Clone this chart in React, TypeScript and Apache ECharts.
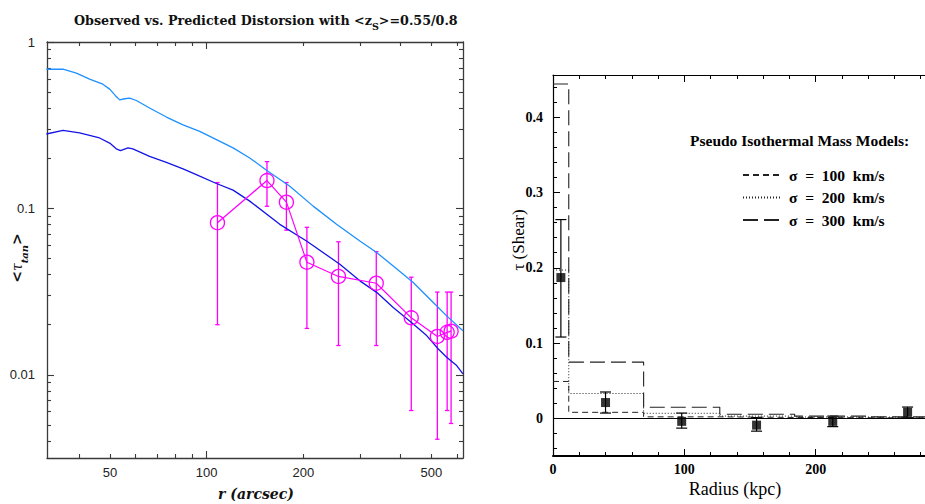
import React, { useEffect, useRef } from 'react';
import * as echarts from 'echarts';

// ---------- Left panel data (r in arcsec, tau) ----------
const obsR = [108, 154, 177, 205, 257, 337, 433, 522, 560, 576];
const obsTau = [0.082, 0.147, 0.109, 0.0475, 0.039, 0.0355, 0.022, 0.017, 0.018, 0.0183];
const obsHi = [0.143, 0.191, 0.143, 0.077, 0.063, 0.055, 0.0386, 0.0314, 0.0314, 0.0314];
const obsLo = [0.020, 0.103, 0.074, 0.019, 0.015, 0.015, 0.0061, 0.0041, 0.0061, 0.0051];

const lightR = [31.7, 35.7, 39.3, 43.2, 47.5, 49.9, 52.3, 53.6, 55.5, 57.6, 60.4, 66.4, 74.9, 84.4, 95.1, 107.2, 120.8, 136.1, 153.5, 181.4, 214.4, 253.5, 299.6, 337.9, 380.5, 439.2, 507, 558, 627];
const lightTau = [0.686, 0.686, 0.650, 0.598, 0.558, 0.521, 0.470, 0.449, 0.456, 0.460, 0.445, 0.401, 0.354, 0.318, 0.290, 0.259, 0.231, 0.201, 0.1696, 0.136, 0.1032, 0.0802, 0.0637, 0.0543, 0.0451, 0.0359, 0.0272, 0.0226, 0.0184];

const darkR = [31.7, 35.7, 40.2, 46.4, 49.9, 52.3, 53.9, 56.9, 58.9, 66.4, 74.9, 84.4, 95.1, 107.2, 120.8, 136.1, 168.8, 204.4, 259.6, 299.6, 337.9, 380.5, 439.2, 483.5, 525.6, 558, 599.6, 627];
const darkTau = [0.280, 0.294, 0.284, 0.265, 0.247, 0.228, 0.2225, 0.231, 0.228, 0.2056, 0.1893, 0.1729, 0.1561, 0.1411, 0.1287, 0.1106, 0.0802, 0.0637, 0.0462, 0.0367, 0.0313, 0.0254, 0.0202, 0.0172, 0.0143, 0.01276, 0.01137, 0.01014];

const leftXLabels = [50, 100, 200, 500];
const leftXMajor = [100];
const leftXMinor = [40, 50, 60, 70, 80, 90, 200, 300, 400, 500, 600];
const leftYLabels = [0.01, 0.1, 1];
const leftYMinor = [0.004, 0.005, 0.006, 0.007, 0.008, 0.009, 0.02, 0.03, 0.04, 0.05, 0.06, 0.07, 0.08, 0.09, 0.2, 0.3, 0.4, 0.5, 0.6, 0.7, 0.8, 0.9];

// ---------- Right panel data (radius in kpc, shear) ----------
const binEdges = [0, 12, 69, 127, 184, 242, 300];
const model100 = [0.049, 0.008, 0.002, 0.0012, 0.0008, 0.0006];
const model200 = [0.197, 0.033, 0.0067, 0.003, 0.0018, 0.0012];
const model300 = [0.444, 0.0747, 0.0147, 0.0055, 0.003, 0.002];

const radiusKpc = [6, 40, 98, 155, 213, 270];
const shear = [0.187, 0.021, -0.004, -0.009, -0.004, 0.008];
const shearHi = [0.264, 0.035, 0.007, 0.001, 0.003, 0.015];
const shearLo = [0.108, 0.007, -0.013, -0.017, -0.011, 0.001];

const rightXLabels = [0, 100, 200];
const rightYLabels = [0, 0.1, 0.2, 0.3, 0.4];
const rightYMinor = [-0.04, -0.02, 0.02, 0.04, 0.06, 0.08, 0.12, 0.14, 0.16, 0.18, 0.22, 0.24, 0.26, 0.28, 0.32, 0.34, 0.36, 0.38, 0.42, 0.44];

const modelNames = ['σ  =  100  km/s', 'σ  =  200  km/s', 'σ  =  300  km/s'];

const L = (v: number) => Math.log10(v);
const SANS = 'Liberation Sans, Arial, sans-serif';
const SERIF = 'Liberation Serif, Times New Roman, serif';
const LEFT_AX = '#3a3a3a';
const MAGENTA = '#ff00ff';

function stepData(vals: number[]) {
  const d: number[][] = vals.map((v, i) => [binEdges[i], v]);
  d.push([binEdges[binEdges.length - 1], vals[vals.length - 1]]);
  return d;
}

function errRender(capHalf: number, color: string, width: number) {
  return (params: any, api: any) => {
    const x = api.value(0);
    const pHi = api.coord([x, api.value(2)]);
    const pLo = api.coord([x, api.value(1)]);
    const style = { stroke: color, lineWidth: width };
    return {
      type: 'group',
      children: [
        { type: 'line', shape: { x1: pHi[0], y1: pHi[1], x2: pLo[0], y2: pLo[1] }, style },
        { type: 'line', shape: { x1: pHi[0] - capHalf, y1: pHi[1], x2: pHi[0] + capHalf, y2: pHi[1] }, style },
        { type: 'line', shape: { x1: pLo[0] - capHalf, y1: pLo[1], x2: pLo[0] + capHalf, y2: pLo[1] }, style },
      ],
    };
  };
}

function logAxis(gridIndex: number, position: string, min: number, max: number, opts: any) {
  return {
    type: 'value',
    gridIndex,
    position,
    min,
    max,
    scale: true,
    splitLine: { show: false },
    axisLine: { show: !!opts.line, onZero: false, lineStyle: { color: LEFT_AX, width: 1.3 } },
    axisTick: {
      show: true,
      inside: true,
      length: opts.tickLen,
      customValues: opts.ticks.map(L),
      lineStyle: { color: LEFT_AX, width: 1.1 },
    },
    axisLabel: opts.labels
      ? {
          show: true,
          customValues: opts.labels.map(L),
          formatter: (v: number) => String(parseFloat(Math.pow(10, v).toPrecision(3))),
          margin: opts.margin,
          color: '#222',
          fontFamily: SANS,
          fontSize: 13,
        }
      : { show: false },
  };
}

const option: any = {
  animation: false,
  backgroundColor: '#fff',
  title: [
    {
      text: 'Observed vs. Predicted Distorsion with <z{s|S}>=0.55/0.8',
      left: 69,
      top: 4,
      textStyle: {
        fontFamily: 'DejaVu Serif, serif',
        fontWeight: 'bold',
        fontSize: 12.7,
        color: '#111',
        rich: {
          s: { fontFamily: 'DejaVu Serif, serif', fontWeight: 'bold', fontSize: 9.5, lineHeight: 22, verticalAlign: 'bottom', color: '#111' },
        },
      },
    },
    {
      text: 'Pseudo Isothermal Mass Models:',
      left: 685,
      top: 127,
      textStyle: { fontFamily: SERIF, fontWeight: 'bold', fontSize: 15.5, color: '#000' },
    },
  ],
  legend: {
    show: true,
    orient: 'vertical',
    left: 737,
    top: 162,
    itemWidth: 38,
    itemHeight: 14,
    itemGap: 6.5,
    data: modelNames,
    itemStyle: { opacity: 0, borderWidth: 0 },
    textStyle: { fontFamily: SERIF, fontWeight: 'bold', fontSize: 15.5, color: '#000', padding: [0, 0, 0, 3] },
  },
  grid: [
    { left: 47, top: 42, width: 416, height: 416, outerBoundsMode: 'none' },
    { left: 553, top: 75, width: 394, height: 381, outerBoundsMode: 'none' },
  ],
  xAxis: [
    logAxis(0, 'bottom', 1.503, 2.7975, { line: true, tickLen: 7, ticks: leftXMajor, labels: leftXLabels, margin: 8 }),
    logAxis(0, 'bottom', 1.503, 2.7975, { line: false, tickLen: 4, ticks: leftXMinor }),
    logAxis(0, 'top', 1.503, 2.7975, { line: true, tickLen: 7, ticks: leftXMajor }),
    logAxis(0, 'top', 1.503, 2.7975, { line: false, tickLen: 4, ticks: leftXMinor }),
    {
      type: 'value', gridIndex: 1, position: 'bottom', min: 0, max: 300, interval: 100,
      splitLine: { show: false },
      axisLine: { show: true, onZero: false, lineStyle: { color: '#000', width: 2 } },
      axisTick: { show: true, inside: true, length: 7, lineStyle: { color: '#000', width: 1 } },
      minorTick: { show: true, splitNumber: 5, length: 4, lineStyle: { color: '#000', width: 1 } },
      axisLabel: { show: true, customValues: rightXLabels, margin: 6, color: '#000', fontFamily: SERIF, fontWeight: 'bold', fontSize: 14 },
    },
    {
      type: 'value', gridIndex: 1, position: 'top', min: 0, max: 300, interval: 100,
      splitLine: { show: false },
      axisLine: { show: true, onZero: false, lineStyle: { color: '#000', width: 1.2 } },
      axisTick: { show: true, inside: true, length: 7, lineStyle: { color: '#000', width: 1 } },
      minorTick: { show: true, splitNumber: 5, length: 4, lineStyle: { color: '#000', width: 1 } },
      axisLabel: { show: false },
    },
  ],
  yAxis: [
    logAxis(0, 'left', -2.5, 0, { line: true, tickLen: 7, ticks: leftYLabels, labels: leftYLabels, margin: 12 }),
    logAxis(0, 'left', -2.5, 0, { line: false, tickLen: 4, ticks: leftYMinor }),
    logAxis(0, 'right', -2.5, 0, { line: true, tickLen: 7, ticks: leftYLabels }),
    logAxis(0, 'right', -2.5, 0, { line: false, tickLen: 4, ticks: leftYMinor }),
    {
      type: 'value', gridIndex: 1, position: 'left', min: -0.05, max: 0.456,
      splitLine: { show: false },
      axisLine: { show: true, onZero: false, lineStyle: { color: '#000', width: 1.2 } },
      axisTick: { show: true, inside: true, length: 7, customValues: rightYLabels, lineStyle: { color: '#000', width: 1 } },
      axisLabel: {
        show: true, customValues: rightYLabels, margin: 10,
        formatter: (v: number) => (Math.abs(v) < 1e-9 ? '0' : v.toFixed(1)),
        color: '#000', fontFamily: SERIF, fontWeight: 'bold', fontSize: 14,
      },
    },
    {
      type: 'value', gridIndex: 1, position: 'left', min: -0.05, max: 0.456,
      splitLine: { show: false },
      axisLine: { show: false, onZero: false },
      axisTick: { show: true, inside: true, length: 4, customValues: rightYMinor, lineStyle: { color: '#000', width: 1 } },
      axisLabel: { show: false },
    },
  ],
  graphic: [
    {
      type: 'text', x: 17, y: 258, rotation: Math.PI / 2,
      style: {
        text: '<{i|τ}{t|tan}>',
        align: 'center', verticalAlign: 'middle',
        font: 'bold 14px DejaVu Serif, serif', fill: '#111',
        rich: {
          i: { fontFamily: 'DejaVu Serif, serif', fontStyle: 'italic', fontSize: 14, fill: '#111' },
          t: { fontFamily: 'DejaVu Serif, serif', fontStyle: 'italic', fontWeight: 'bold', fontSize: 10, lineHeight: 24, verticalAlign: 'bottom', fill: '#111' },
        },
      },
    },
    {
      type: 'text', x: 256, y: 494,
      style: { text: 'r (arcsec)', align: 'center', verticalAlign: 'middle', font: 'italic bold 14px DejaVu Serif, serif', fill: '#111' },
    },
    {
      type: 'text', x: 518, y: 240, rotation: Math.PI / 2,
      style: { text: 'τ (Shear)', align: 'center', verticalAlign: 'middle', font: '17px Liberation Serif, serif', fill: '#000' },
    },
    {
      type: 'text', x: 735, y: 489,
      style: { text: 'Radius (kpc)', align: 'center', verticalAlign: 'middle', font: '18px Liberation Serif, serif', fill: '#000' },
    },
  ],
  series: [
    {
      type: 'line', xAxisIndex: 0, yAxisIndex: 0, symbol: 'none', silent: true,
      data: lightR.map((r, i) => [L(r), L(lightTau[i])]),
      lineStyle: { color: '#1e90ff', width: 1.3 },
    },
    {
      type: 'line', xAxisIndex: 0, yAxisIndex: 0, symbol: 'none', silent: true,
      data: darkR.map((r, i) => [L(r), L(darkTau[i])]),
      lineStyle: { color: '#1414e6', width: 1.3 },
    },
    {
      type: 'custom', xAxisIndex: 0, yAxisIndex: 0, silent: true,
      renderItem: errRender(2.2, MAGENTA, 1.3),
      encode: { x: 0, y: [1, 2] },
      data: obsR.map((r, i) => [L(r), L(obsLo[i]), L(obsHi[i])]),
      z: 3,
    },
    {
      type: 'line', xAxisIndex: 0, yAxisIndex: 0, symbol: 'circle', symbolSize: 14, silent: true,
      data: obsR.map((r, i) => [L(r), L(obsTau[i])]),
      lineStyle: { color: MAGENTA, width: 1.2 },
      itemStyle: { color: 'rgba(255,0,255,0)', borderColor: MAGENTA, borderWidth: 1.3 },
      z: 4,
    },
    {
      type: 'line', name: modelNames[0], xAxisIndex: 4, yAxisIndex: 4, step: 'end', symbol: 'none', silent: true,
      data: stepData(model100),
      itemStyle: { color: '#222' },
      lineStyle: { color: '#222', width: 1, type: [6, 4] },
    },
    {
      type: 'line', name: modelNames[1], xAxisIndex: 4, yAxisIndex: 4, step: 'end', symbol: 'none', silent: true,
      data: stepData(model200),
      itemStyle: { color: '#222' },
      lineStyle: { color: '#222', width: 1, type: [1, 2] },
    },
    {
      type: 'line', name: modelNames[2], xAxisIndex: 4, yAxisIndex: 4, step: 'end', symbol: 'none', silent: true,
      data: stepData(model300),
      itemStyle: { color: '#222' },
      lineStyle: { color: '#222', width: 1.1, type: [15, 6] },
    },
    {
      type: 'custom', xAxisIndex: 4, yAxisIndex: 4, silent: true,
      renderItem: errRender(5.5, '#000', 1.2),
      encode: { x: 0, y: [1, 2] },
      data: radiusKpc.map((r, i) => [r, shearLo[i], shearHi[i]]),
      z: 3,
    },
    {
      type: 'scatter', xAxisIndex: 4, yAxisIndex: 4, symbol: 'rect', symbolSize: 9, silent: true,
      data: radiusKpc.map((r, i) => [r, shear[i]]),
      itemStyle: { color: '#000' },
      markLine: {
        silent: true, symbol: 'none', label: { show: false },
        lineStyle: { color: '#000', width: 1.1, type: 'solid' },
        data: [{ yAxis: 0 }],
      },
      z: 4,
    },
  ],
};

export default function App() {
  const ref = useRef<HTMLDivElement>(null);
  useEffect(() => {
    const chart = echarts.init(ref.current!, null, { renderer: 'svg' });
    chart.setOption(option);
    return () => chart.dispose();
  }, []);
  return (
    <div
      ref={ref}
      style={{ position: 'absolute', left: 0, top: 0, width: 925, height: 504, background: '#fff' }}
    />
  );
}
